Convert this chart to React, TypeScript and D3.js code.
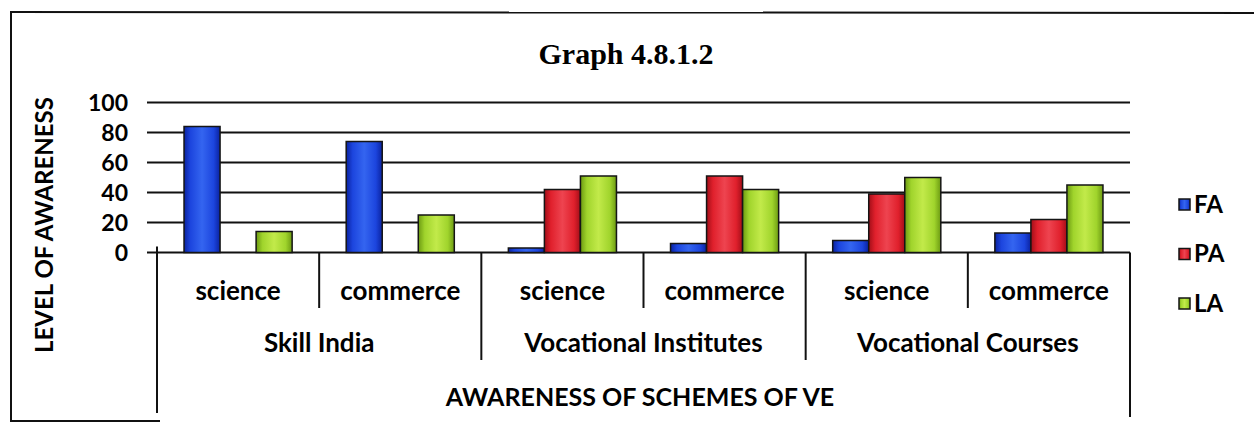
import React from "react";
import * as d3 from "d3";

const groups = ["Skill India", "Vocational Institutes", "Vocational Courses"];
const subCategories = ["science", "commerce", "science", "commerce", "science", "commerce"];
const seriesNames = ["FA", "PA", "LA"];
const FA = [84, 74, 3, 6, 8, 13];
const PA = [0, 0, 42, 51, 39, 22];
const LA = [14, 25, 51, 42, 50, 45];
const yTicks = [0, 20, 40, 60, 80, 100];

const W = 1254;
const H = 424;
const plotLeft = 157;
const plotRight = 1130;
const yTop = 102.5;
const yBottom = 252.5;

const colors: Record<string, { mid: string; edge: string; light: string }> = {
  FA: { mid: "#1c45de", edge: "#0a22a0", light: "#3465f0" },
  PA: { mid: "#e0202c", edge: "#a20e18", light: "#ee4450" },
  LA: { mid: "#a0d42c", edge: "#6c9a12", light: "#c2ea4a" },
};

export default function App() {
  const seriesValues: Record<string, number[]> = { FA, PA, LA };
  const idx = d3.range(subCategories.length);
  const x0 = d3.scaleBand<number>().domain(idx).range([plotLeft, plotRight]).paddingInner(0).paddingOuter(0);
  const bw = x0.bandwidth();
  const gap = (bw * 1.5) / 4.5;
  const x1 = d3.scaleBand<string>().domain(seriesNames).range([gap / 2, bw - gap / 2]).padding(0);
  const y = d3.scaleLinear().domain([0, 100]).range([yBottom, yTop]);
  const font = "Lato, 'Open Sans', sans-serif";

  return (
    <svg width={W} height={H} style={{ display: "block", position: "absolute", left: 0, top: 0 }}>
      <defs>
        {seriesNames.map((s) => (
          <linearGradient key={s} id={`g-${s}`} x1="0" x2="1" y1="0" y2="0">
            <stop offset="0%" stopColor={colors[s].edge} />
            <stop offset="18%" stopColor={colors[s].mid} />
            <stop offset="50%" stopColor={colors[s].light} />
            <stop offset="82%" stopColor={colors[s].mid} />
            <stop offset="100%" stopColor={colors[s].edge} />
          </linearGradient>
        ))}
      </defs>
      <rect x={0} y={0} width={W} height={H} fill="#fff" />
      {/* frame */}
      <line x1={11} x2={W} y1={12} y2={13} stroke="#111" strokeWidth={2} />
      <line x1={11} x2={11} y1={11} y2={421} stroke="#111" strokeWidth={2} />
      <line x1={10} x2={160} y1={421} y2={421} stroke="#111" strokeWidth={2} />

      <text
        x={626}
        y={64}
        textAnchor="middle"
        fontFamily="'Liberation Serif', 'DejaVu Serif', serif"
        fontWeight="bold"
        fontSize={30}
      >
        Graph 4.8.1.2
      </text>

      {/* gridlines */}
      {yTicks.map((t) => (
        <g key={t}>
          <line x1={plotLeft - 10} x2={plotRight} y1={y(t)} y2={y(t)} stroke="#111" strokeWidth={2} />
          <text x={128} y={y(t)} dy="0.36em" textAnchor="end" fontFamily={font} fontWeight="bold" fontSize={23}>
            {t}
          </text>
        </g>
      ))}

      {/* bars */}
      {idx.map((i) => (
        <g key={i} transform={`translate(${x0(i)},0)`}>
          {seriesNames.map((s) => {
            const v = seriesValues[s][i];
            if (!v) return null;
            return (
              <rect
                key={s}
                x={x1(s)}
                y={y(v)}
                width={x1.bandwidth()}
                height={y(0) - y(v)}
                fill={`url(#g-${s})`}
                stroke="#151515"
                strokeWidth={1.5}
              />
            );
          })}
        </g>
      ))}

      {/* axis lines */}
      <line x1={plotLeft} x2={plotLeft} y1={y(0) - 6} y2={413} stroke="#111" strokeWidth={2} />
      <line x1={plotRight} x2={plotRight} y1={y(0)} y2={417} stroke="#111" strokeWidth={2} />
      {idx.slice(1).map((i) => (
        <line
          key={i}
          x1={x0(i)}
          x2={x0(i)}
          y1={y(0)}
          y2={i % 2 === 0 ? 360 : 308}
          stroke="#111"
          strokeWidth={2}
        />
      ))}

      {/* sub-category labels */}
      {idx.map((i) => (
        <text key={i} x={(x0(i) as number) + bw / 2} y={291} dy="0.35em" textAnchor="middle" fontFamily={font} fontWeight="bold" fontSize={26}>
          {subCategories[i]}
        </text>
      ))}
      {groups.map((g, gi) => (
        <text key={g} x={(x0(gi * 2) as number) + bw} y={343} dy="0.35em" textAnchor="middle" fontFamily={font} fontWeight="bold" fontSize={26}>
          {g}
        </text>
      ))}
      <text x={640} y={397} dy="0.35em" textAnchor="middle" fontFamily={font} fontWeight="bold" fontSize={25}>
        AWARENESS OF SCHEMES OF VE
      </text>
      <text
        transform={`translate(45,225) rotate(-90)`}
        dy="0.35em"
        textAnchor="middle"
        fontFamily={font}
        fontWeight="bold"
        fontSize={24}
      >
        LEVEL OF AWARENESS
      </text>

      {/* legend */}
      {seriesNames.map((s, k) => {
        const cy = 204 + k * 49.5;
        return (
          <g key={s}>
            <rect x={1179} y={cy - 5} width={11} height={11} fill={`url(#g-${s})`} stroke="#151515" strokeWidth={1.5} />
            <text x={1194} y={cy} dy="0.36em" fontFamily={font} fontWeight="bold" fontSize={24}>
              {s}
            </text>
          </g>
        );
      })}
    </svg>
  );
}
